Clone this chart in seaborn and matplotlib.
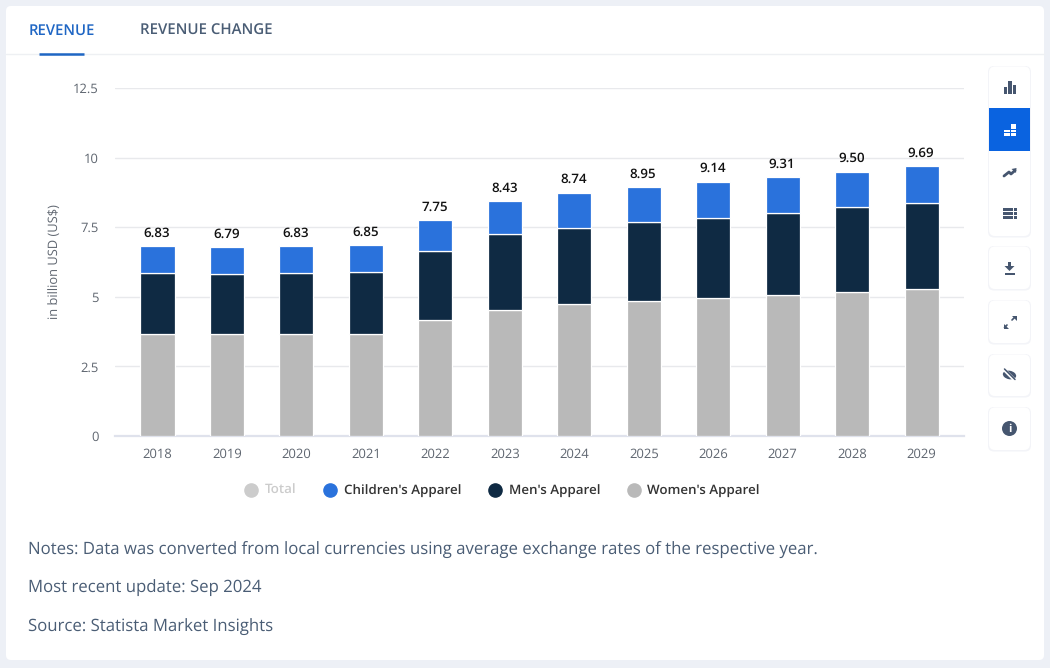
import matplotlib
matplotlib.use('Agg')
import matplotlib.pyplot as plt
import seaborn as sns
import numpy as np
import pandas as pd
from matplotlib.lines import Line2D
from matplotlib.patches import FancyBboxPatch, Rectangle, Circle, Polygon, Ellipse

years = ['2018', '2019', '2020', '2021', '2022', '2023', '2024', '2025', '2026', '2027', '2028', '2029']
total = [6.83, 6.79, 6.83, 6.85, 7.75, 8.43, 8.74, 8.95, 9.14, 9.31, 9.50, 9.69]
womens = [3.65, 3.65, 3.65, 3.68, 4.17, 4.53, 4.74, 4.85, 4.96, 5.06, 5.17, 5.28]
mens = [2.20, 2.17, 2.20, 2.21, 2.48, 2.73, 2.73, 2.84, 2.87, 2.95, 3.05, 3.09]
childrens = [0.98, 0.97, 0.98, 0.96, 1.10, 1.17, 1.27, 1.26, 1.31, 1.30, 1.28, 1.32]
y_ticks = [0, 2.5, 5, 7.5, 10, 12.5]
y_labels = ['0', '2.5', '5', '7.5', '10', '12.5']

BLUE = '#2a72dc'
NAVY = '#0f2a43'
GREY = '#b9b9b9'
TEXT = '#4a5d75'

sns.set_theme(style='white')
plt.rcParams['font.family'] = ['Open Sans', 'DejaVu Sans']
plt.rcParams['text.hinting'] = 'no_hinting'

W, H = 1050, 668
fig = plt.figure(figsize=(W / 100, H / 100), dpi=100, facecolor='#edf0f6')

# page furniture, in pixel coordinates
bg = fig.add_axes([0, 0, 1, 1], zorder=0)
bg.set_xlim(0, W)
bg.set_ylim(H, 0)
bg.axis('off')


def card(x0, y0, x1, y1, color='white', r=5):
    bg.add_patch(FancyBboxPatch((x0 + r, y0 + r), x1 - x0 - 2 * r, y1 - y0 - 2 * r,
                                boxstyle=f'round,pad={r},rounding_size={r}',
                                fc=color, ec='none', mutation_aspect=1))


card(6, 6, 1044, 660)
bg.plot([6, 1044], [54, 54], color='#eef0f3', lw=1)
bg.plot([39, 84], [53.5, 53.5], color='#1f66c4', lw=1.8, solid_capstyle='butt')
bg.text(62, 30.5, 'REVENUE', color='#1f66c4', fontsize=10.7, weight=600, ha='center', va='center')
bg.text(206.5, 30.5, 'REVENUE CHANGE', color='#4a5d75', fontsize=10.8, weight=600, ha='center', va='center')

# toolbar on the right
for y0, y1 in [(66, 236), (246, 289), (300, 343), (354, 396), (407, 450)]:
    card(988, y0, 1031, y1 + 1.5, color='#f3f4f8', r=6)
    card(989, y0 + .5, 1030, y1, color='white', r=6)
bg.add_patch(Rectangle((989, 108), 41, 43, fc='#0a63e0', ec='none'))
ICON = '#46566f'
for x, top in [(1003.5, 87), (1008.2, 81), (1012.8, 85)]:
    bg.add_patch(Rectangle((x, top), 3.5, 94 - top, fc=ICON, ec='none'))
for x, y, w, h in [(1004, 129.5, 5.5, 2.8), (1004, 133.2, 5.5, 2.8), (1011, 124, 5.2, 4.5),
                   (1011, 129.5, 5.2, 2.8), (1011, 133.2, 5.2, 2.8)]:
    bg.add_patch(Rectangle((x, y), w, h, fc='white', ec='none'))
bg.plot([1004, 1009, 1011, 1015], [176, 172, 174, 170.5], color=ICON, lw=2)
bg.add_patch(Polygon([[1011.5, 169], [1016.5, 168], [1016, 173]], fc=ICON, ec='none'))
for col in range(3):
    for row in range(3):
        wd = 6.5 if col == 0 else 3
        x = [1003, 1010.3, 1014][col]
        bg.add_patch(Rectangle((x, 208.2 + row * 3.9), wd, 3.2, fc=ICON, ec='none'))
bg.add_patch(Polygon([[1008, 262], [1011, 262], [1011, 266], [1014.5, 266], [1009.5, 271], [1004.5, 266], [1008, 266]], fc=ICON, ec='none'))
bg.add_patch(Rectangle((1005, 273), 9.5, 1.8, fc=ICON, ec='none'))
bg.plot([1014.5, 1012], [317.5, 320], color=ICON, lw=1.2)
bg.plot([1004.5, 1007], [327.5, 325], color=ICON, lw=1.2)
bg.add_patch(Polygon([[1011.5, 316], [1016.5, 316], [1016.5, 321]], fc=ICON, ec='none'))
bg.add_patch(Polygon([[1003.5, 324], [1003.5, 329], [1008.5, 329]], fc=ICON, ec='none'))
bg.add_patch(Ellipse((1009.5, 375), 13.5, 8.5, angle=12, fc=ICON, ec='none'))
bg.plot([1004, 1015], [369.5, 380.5], color='white', lw=2.4)
bg.plot([1004.5, 1015], [369, 379.5], color=ICON, lw=1.1)
bg.add_patch(Circle((1009.5, 428.5), 7.5, fc=ICON, ec='none'))
bg.text(1009.5, 428.7, 'i', color='white', fontsize=8, weight='bold', ha='center', va='center')

# chart
ax = fig.add_axes([115 / W, 1 - 436 / H, (964 - 115) / W, (436 - 88) / H], zorder=1)
ax.patch.set_alpha(0)
df = pd.DataFrame({'year': years, 'total': total, 'womens': womens, 'mens': mens, 'childrens': childrens})
bottom = np.zeros(len(df))
for col, color in [('womens', GREY), ('mens', NAVY), ('childrens', BLUE)]:
    sns.barplot(data=df, x='year', y=col, bottom=bottom, color=color, saturation=1, width=0.49,
                edgecolor='white', linewidth=0.9, ax=ax, zorder=3)
    bottom = bottom + df[col].values

for i, t in enumerate(total):
    ax.annotate(f'{t:.2f}', (i, t), xytext=(-0.4, 4.5), textcoords='offset points', ha='center', va='bottom',
                fontsize=9.6, weight=600, color='#111111', zorder=5)

ax.set_xlim(-0.612, 11.61)
ax.set_ylim(0, 12.5)
ax.set_yticks(y_ticks, y_labels)
ax.set_xlabel('')
ax.set_ylabel('in billion USD (US$)', fontsize=9.3, color='#5f6670', labelpad=9)
ax.grid(axis='y', color='#e8e9ec', lw=1, zorder=0)
ax.set_axisbelow(True)
sns.despine(ax=ax, left=True, top=True, right=True)
ax.spines['bottom'].set_color('#dfe2ec')
ax.spines['bottom'].set_linewidth(1.6)
ax.tick_params(axis='y', length=0, labelsize=9.4, labelcolor='#5f6670', pad=11.5)
ax.tick_params(axis='x', length=6, width=0.8, color='#dfe2ec', labelsize=9.4, labelcolor='#5f6670', pad=2.5)

handles = [Line2D([], [], ls='', marker='o', ms=9.5, color=c) for c in ['#cccccc', BLUE, NAVY, GREY]]
leg = fig.legend(handles, ['Total', "Children's Apparel", "Men's Apparel", "Women's Apparel"],
                 ncol=4, frameon=False, loc='center', bbox_to_anchor=(501 / W, 1 - 491 / H),
                 fontsize=9.6, handletextpad=0.3, columnspacing=1.85, handlelength=1.4)
for txt, c in zip(leg.get_texts(), ['#cccccc', '#333333', '#333333', '#333333']):
    txt.set_color(c)
    txt.set_fontweight(600)

bg.text(28, 549.5, 'Notes: Data was converted from local currencies using average exchange rates of the respective year.',
        color=TEXT, fontsize=12.07, va='center')
bg.text(28, 588, 'Most recent update: Sep 2024', color=TEXT, fontsize=12.07, va='center')
bg.text(28, 627, 'Source: Statista Market Insights', color=TEXT, fontsize=12.07, va='center')

fig.savefig('out.png', dpi=100, facecolor=fig.get_facecolor())
